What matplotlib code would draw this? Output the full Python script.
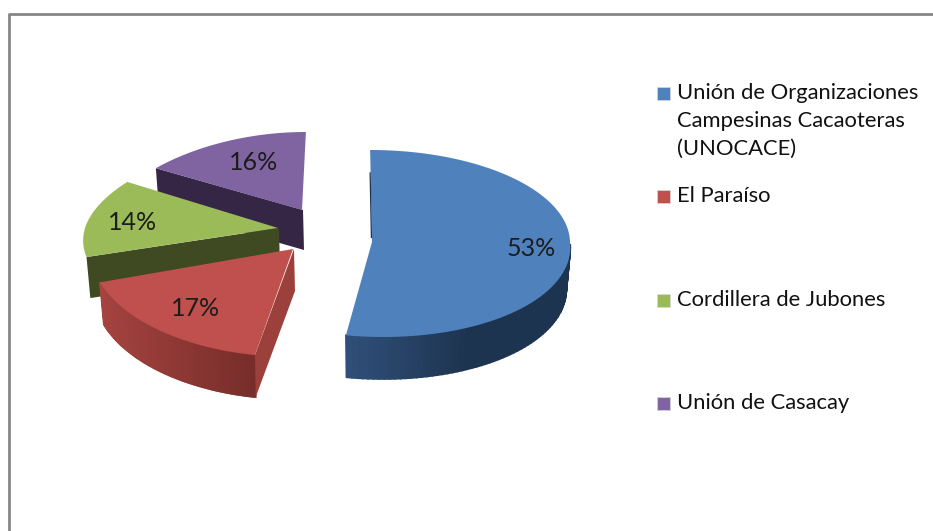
import numpy as np
import matplotlib
matplotlib.use('Agg')
import matplotlib.pyplot as plt
from matplotlib.patches import Polygon, Rectangle

plt.rcParams['font.family'] = ['Lato', 'DejaVu Sans']

labels = ['Unión de Organizaciones\nCampesinas Cacaoteras\n(UNOCACE)', 'El Paraíso', 'Cordillera de Jubones', 'Unión de Casacay']
values = [53, 17, 14, 16]
colors = ['#4f81bd', '#c0504d', '#9bbb59', '#8064a2']

# per slice geometry in pixels: apex x, apex y, rx, rx change front/back, ry back, ry front, skew back, skew front
geom = [(372, 242, 198, 0, 92, 95, -0.02, 0.118),
        (293, 249, 203, 0, 103, 108, 0, 0),
        (278, 228, 193, 27, 86, 94, 0, 0),
        (302, 210, 190, 27, 78, 80, 0.05, 0)]
depths = [42, 42, 41, 40]
label_pos = [(531, 249), (196, 309), (133, 222), (254, 162)]
legend_y = [93, 196, 300, 403]
cut_colors = [None, '#9c403c', '#3f4a22', '#352645']
side_left = ['#30507a', '#a5433f', None, None]
side_right = ['#1d3450', '#762d2a', None, None]

fig = plt.figure(figsize=(9.33, 5.31), dpi=100)
ax = fig.add_axes([0, 0, 1, 1])
ax.set_xlim(0, 933)
ax.set_ylim(531, 0)
ax.axis('off')


def project(g, t, r=1.0):
    cx, cy, rx, drx, ryb, ryf, sb, sf = g
    c = np.cos(t)
    s = np.sin(t)
    ry = np.where(c > 0, ryb, ryf)
    y = -r*ry*c
    x = r*(rx-drx*c)*s
    x = x+np.where(c > 0, sb*(-y), sf*y)
    return cx+x, cy+y


def lower(g, x, y, d):
    return g[0]+(x-g[0])*0.98, y+d


starts = np.cumsum([0]+values[:-1])/sum(values)*2*np.pi
ends = np.cumsum(values)/sum(values)*2*np.pi

# back slices first
for i in [3, 2, 1, 0]:
    g = geom[i]
    d = depths[i]
    t = np.linspace(starts[i], ends[i], 120)
    x, y = project(g, t)
    bx, by = lower(g, x, y, d)
    z = i*-3+10
    # rim
    if side_left[i] is not None:
        c0 = np.array(matplotlib.colors.to_rgb(side_left[i]))
        c1 = np.array(matplotlib.colors.to_rgb(side_right[i]))
        front = np.where((t > 0.5*np.pi) & (t < 1.5*np.pi))[0]
        xs = x[front]
        for k in front[:-1]:
            f = (x[k]-xs.min())/(xs.max()-xs.min())
            if i == 0:
                f = min(f*1.8, 1)
            col = c0*(1-f)+c1*f
            ax.add_patch(Polygon([(x[k], y[k]), (x[k+1], y[k+1]), (bx[k+1], by[k+1]), (bx[k], by[k])],
                                 fc=col, ec=col, lw=1.2, zorder=z))
    ax0, ay0 = g[0], g[1]
    abx, aby = lower(g, ax0, ay0, d)
    # cut faces
    if i > 0:
        ax.add_patch(Polygon([(ax0+1, ay0), (x[0], y[0]), (bx[0], by[0]), (abx+2, aby)],
                             fc=cut_colors[i], ec='none', zorder=z+0.5))
    ax.add_patch(Polygon(np.column_stack([np.r_[ax0, x], np.r_[ay0, y]]), fc=colors[i], ec='none', zorder=z+1))
    if i == 0:
        sx, sy = project(g, starts[0], np.array([0.05, 0.75]))
        ax.plot(sx-0.5, sy, color='#1d3450', lw=0.9, zorder=z+1.5)
    ax.text(label_pos[i][0], label_pos[i][1], '%d%%' % values[i], fontsize=18, color='#1c1c1c',
            ha='center', va='center', zorder=20)

# legend
for i in range(4):
    ax.add_patch(Rectangle((657, legend_y[i]-6.5), 13, 13, fc=colors[i], ec='#d8d8d8', lw=0.5))
    ax.text(677, legend_y[i]-10, labels[i], fontsize=15.8, color='#111111', ha='left', va='top',
            linespacing=1.5)

# chart frame, only top and left show
ax.plot([8.5, 933], [13.5, 13.5], color='#868686', lw=2, solid_capstyle='butt')
ax.plot([8.5, 8.5], [12.5, 531], color='#868686', lw=2, solid_capstyle='butt')

fig.savefig('out.png', dpi=100, facecolor='white')
